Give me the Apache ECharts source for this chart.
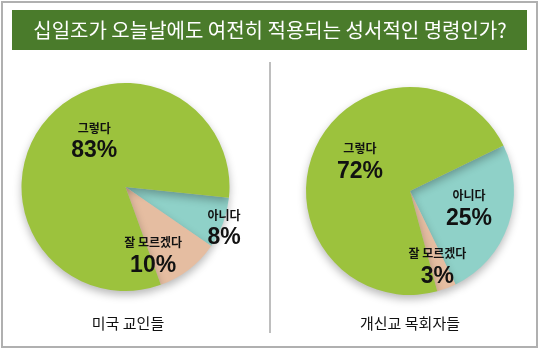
<!DOCTYPE html>
<html><head><meta charset="utf-8">
<script src="https://cdn.jsdelivr.net/npm/echarts@6/dist/echarts.min.js"></script>
<style>html,body{margin:0;padding:0;background:#fff}#c{width:550px;height:359px}</style>
</head><body><div id="c"></div>
<script>
const titleText = '십일조가 오늘날에도 여전히 적용되는 성서적인 명령인가?';
const groups = ['미국 교인들', '개신교 목회자들'];
const categoriesLeft = ['아니다', '잘 모르겠다', '그렇다'];
const valuesLeft = [8, 10, 83];
const categoriesRight = ['아니다', '잘 모르겠다', '그렇다'];
const valuesRight = [25, 3, 72];

const colors = {'그렇다':'#9cc23d','아니다':'#8fd1c8','잘 모르겠다':'#e5bda1'};
const KR = '"Noto Sans CJK KR", sans-serif';
const labelRich = {
  a:{fontFamily:KR,fontSize:12,color:'#111',fontWeight:'bold',lineHeight:20},
  b:{fontFamily:'"Liberation Sans", Arial, sans-serif',fontSize:23,fontWeight:'bold',color:'#111',lineHeight:26}
};
function mk(cats, vals, offsets){
  return cats.map((c,i)=>({name:c,value:vals[i],itemStyle:{color:colors[c]},
    label:{offset:offsets[i]}}));
}
const chart = echarts.init(document.getElementById('c'));
const common = {
  type:'pie', radius:[0,104], clockwise:true, silent:true,
  label:{show:true,position:'inside',formatter:p=>'{a|'+p.name+'}\n{b|'+p.value+'%}',rich:labelRich,align:'center'},
  labelLine:{show:false},
  itemStyle:{shadowBlur:8,shadowColor:'rgba(0,0,0,0.28)',shadowOffsetY:4},
  emphasis:{disabled:true}
};
chart.setOption({
  animation:false,
  graphic:[
    {type:'rect',shape:{x:2,y:2,width:535,height:345},style:{fill:'none',stroke:'#b0b0b0',lineWidth:2},z:0},
    {type:'rect',shape:{x:12,y:10,width:515,height:40},style:{fill:'#4a7b2b'},z:1},
    {type:'text',x:270,y:30,style:{text:titleText,fill:'#fff',font:'20px '+KR,textAlign:'center',textVerticalAlign:'middle'},z:2},
    {type:'line',shape:{x1:270,y1:62,x2:270,y2:333},style:{stroke:'#a8a8a8',lineWidth:1.5},z:1},
    {type:'text',x:128,y:323,style:{text:groups[0],fill:'#111',font:'15px '+KR,textAlign:'center',textVerticalAlign:'middle'},z:2},
    {type:'text',x:410,y:323,style:{text:groups[1],fill:'#111',font:'15px '+KR,textAlign:'center',textVerticalAlign:'middle'},z:2}
  ],
  series:[
    Object.assign({},common,{center:[125.5,187],startAngle:-6,
      data:mk(categoriesLeft,valuesLeft,[[47,22],[-6,25],[12,-12]])}),
    Object.assign({},common,{center:[410,191],startAngle:26,
      data:mk(categoriesRight,valuesRight,[[7,0],[8,24],[0,-7]])})
  ]
});
</script></body></html>
